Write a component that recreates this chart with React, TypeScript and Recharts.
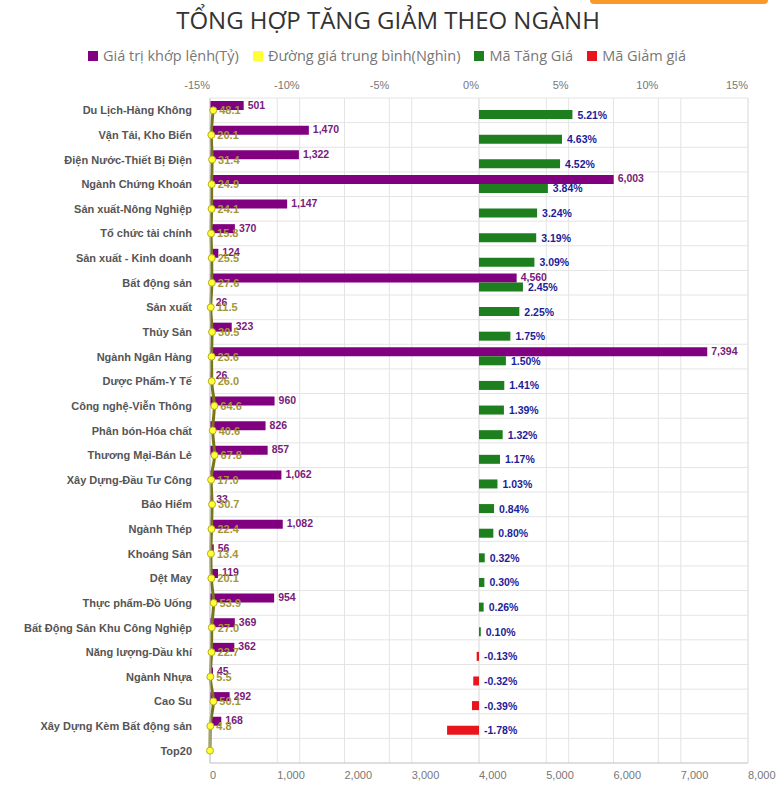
import React from "react";
import {
  ComposedChart,
  Bar,
  Line,
  XAxis,
  YAxis,
  CartesianGrid,
  LabelList,
} from "recharts";

// sectors, top to bottom
const sectors = [
  "Du Lịch-Hàng Không",
  "Vận Tải, Kho Biển",
  "Điện Nước-Thiết Bị Điện",
  "Ngành Chứng Khoán",
  "Sản xuất-Nông Nghiệp",
  "Tổ chức tài chính",
  "Sản xuất - Kinh doanh",
  "Bất động sản",
  "Sản xuất",
  "Thủy Sản",
  "Ngành Ngân Hàng",
  "Dược Phẩm-Y Tế",
  "Công nghệ-Viễn Thông",
  "Phân bón-Hóa chất",
  "Thương Mại-Bán Lẻ",
  "Xây Dựng-Đầu Tư Công",
  "Bảo Hiểm",
  "Ngành Thép",
  "Khoáng Sản",
  "Dệt May",
  "Thực phẩm-Đồ Uống",
  "Bất Động Sản Khu Công Nghiệp",
  "Năng lượng-Dầu khí",
  "Ngành Nhựa",
  "Cao Su",
  "Xây Dựng Kèm Bất động sản",
  "Top20",
];

// Giá trị khớp lệnh (Tỷ)
const matchedValue = [
  501, 1470, 1322, 6003, 1147, 370, 124, 4560, 26, 323, 7394, 26, 960, 826, 857,
  1062, 33, 1082, 56, 119, 954, 369, 362, 45, 292, 168, 0,
];

// Đường giá trung bình (Nghìn)
const avgPrice = [
  48.1, 20.1, 31.4, 24.9, 24.1, 15.8, 25.5, 27.6, 11.5, 30.5, 23.6, 26.0, 64.6,
  40.6, 67.8, 17.0, 30.7, 22.4, 13.4, 20.1, 53.9, 27.0, 22.7, 5.5, 50.1, 4.8, 0,
];

// % change
const pctChange = [
  5.21, 4.63, 4.52, 3.84, 3.24, 3.19, 3.09, 2.45, 2.25, 1.75, 1.5, 1.41, 1.39,
  1.32, 1.17, 1.03, 0.84, 0.8, 0.32, 0.3, 0.26, 0.1, -0.13, -0.32, -0.39, -1.78, 0,
];

const pctTicks = [-15, -10, -5, 0, 5, 10, 15];
const valueTicks = [0, 1000, 2000, 3000, 4000, 5000, 6000, 7000, 8000];

const legendItems = [
  { label: "Giá trị khớp lệnh(Tỷ)", color: "#800080" },
  { label: "Đường giá trung bình(Nghìn)", color: "#ffff33" },
  { label: "Mã Tăng Giá", color: "#1e7f1e" },
  { label: "Mã Giảm giá", color: "#e8161c" },
];

const data = sectors.map((name, i) => ({
  name,
  value: matchedValue[i],
  avg: avgPrice[i],
  pct: pctChange[i],
  up: pctChange[i] > 0 ? pctChange[i] : 0,
  down: pctChange[i] < 0 ? pctChange[i] : 0,
}));

const FONT = "'Liberation Sans', Arial, sans-serif";

const ValueLabel = (props: any) => {
  const { x, y, width, height, value } = props;
  if (!value) return null;
  return (
    <text
      x={x + width + 4}
      y={y + height / 2 - 1}
      dominantBaseline="central"
      fontSize={10.5}
      fontWeight="bold"
      fontFamily={FONT}
      fill="#7a1a7a"
    >
      {Number(value).toLocaleString("en-US")}
    </text>
  );
};

const makePctLabel = (positive: boolean) => (props: any) => {
  const { x, y, width, height, value } = props;
  if (value == null || value === 0) return null;
  if (positive !== value > 0) return null;
  const right = Math.max(x, x + width);
  return (
    <text
      x={right + 5}
      y={y + height / 2}
      dominantBaseline="central"
      fontSize={10.5}
      fontWeight="bold"
      fontFamily={FONT}
      fill="#1c1c99"
    >
      {`${Number(value).toFixed(2)}%`}
    </text>
  );
};

const AvgLabel = (props: any) => {
  const { x, y, value } = props;
  if (!value) return null;
  return (
    <text
      x={x + 6}
      y={y}
      dominantBaseline="central"
      fontSize={11}
      fontWeight="bold"
      fontFamily={FONT}
      fill="#a39634"
    >
      {Number(value).toFixed(1)}
    </text>
  );
};

const SectorTick = (props: any) => {
  const { x, y, payload } = props;
  return (
    <text
      x={x}
      y={y}
      textAnchor="end"
      dominantBaseline="central"
      fontSize={11}
      fontWeight="bold"
      fontFamily={FONT}
      fill="#555"
    >
      {payload.value}
    </text>
  );
};

const bandLines = ({ offset }: any) => {
  const n = sectors.length;
  const step = offset.height / n;
  return Array.from({ length: n + 1 }, (_, i) => offset.top + i * step);
};

export default function App() {
  return (
    <div
      style={{
        position: "absolute",
        left: 0,
        top: 0,
        width: 784,
        height: 796,
        background: "#fff",
        overflow: "hidden",
      }}
    >
      <div
        style={{
          position: "absolute",
          left: 590,
          top: -6,
          width: 178,
          height: 10,
          borderRadius: 4,
          background: "#f79a2a",
        }}
      />
      <div
        style={{
          position: "absolute",
          top: 3,
          left: 0,
          width: 776,
          textAlign: "center",
          fontFamily: "'Open Sans', sans-serif",
          fontSize: 24,
          fontWeight: 500,
          color: "#333",
        }}
      >
        TỔNG HỢP TĂNG GIẢM THEO NGÀNH
      </div>
      <div
        style={{
          position: "absolute",
          top: 46,
          left: 0,
          width: 774,
          display: "flex",
          justifyContent: "center",
          gap: 14,
          fontFamily: "'Open Sans', sans-serif",
          fontSize: 14.5,
          color: "#777",
        }}
      >
        {legendItems.map((item) => (
          <div key={item.label} style={{ display: "flex", alignItems: "center" }}>
            <span
              style={{
                display: "inline-block",
                width: 10,
                height: 10,
                background: item.color,
                marginRight: 5,
              }}
            />
            {item.label}
          </div>
        ))}
      </div>
      <div style={{ position: "absolute", left: 0, top: 0 }}>
        <ComposedChart
          width={784}
          height={796}
          data={data}
          layout="vertical"
          margin={{ top: 78, right: 36, bottom: 3, left: 20 }}
          barSize={9}
          barGap={0}
        >
          <CartesianGrid
            xAxisId="val"
            stroke="#e4e4e4"
            horizontalCoordinatesGenerator={bandLines}
          />
          <CartesianGrid xAxisId="pct" stroke="#e4e4e4" horizontal={false} />
          <XAxis
            xAxisId="pct"
            type="number"
            orientation="top"
            domain={[-15, 15]}
            ticks={pctTicks}
            tickFormatter={(v) => `${v}%`}
            height={20}
            axisLine={false}
            tickLine={false}
            tick={{ fontSize: 11, fill: "#777", fontFamily: FONT, textAnchor: "end" }}
            tickMargin={3}
          />
          <XAxis
            xAxisId="val"
            type="number"
            orientation="bottom"
            domain={[0, 8000]}
            ticks={valueTicks}
            tickFormatter={(v) => v.toLocaleString("en-US")}
            height={30}
            axisLine={{ stroke: "#ccc" }}
            tickLine={false}
            tick={{ fontSize: 11, fill: "#777", fontFamily: FONT, textAnchor: "start" }}
            tickMargin={2}
          />
          <YAxis
            type="category"
            dataKey="name"
            width={190}
            interval={0}
            axisLine={{ stroke: "#ccc" }}
            tickLine={false}
            tickMargin={12}
            tick={<SectorTick />}
          />
          <Bar
            xAxisId="val"
            dataKey="value"
            stackId="val"
            fill="#800080"
            isAnimationActive={false}
          >
            <LabelList dataKey="value" content={ValueLabel} />
          </Bar>
          <Bar
            xAxisId="pct"
            dataKey="up"
            stackId="pct"
            fill="#1e7f1e"
            isAnimationActive={false}
          >
            <LabelList dataKey="pct" content={makePctLabel(true)} />
          </Bar>
          <Bar
            xAxisId="pct"
            dataKey="down"
            stackId="pct"
            fill="#e8161c"
            isAnimationActive={false}
          >
            <LabelList dataKey="pct" content={makePctLabel(false)} />
          </Bar>
          <Line
            xAxisId="val"
            dataKey="avg"
            type="monotone"
            stroke="#77771a"
            strokeWidth={3}
            dot={{ r: 3.5, fill: "#ffff33", stroke: "#b5b020", strokeWidth: 1 }}
            isAnimationActive={false}
          >
            <LabelList dataKey="avg" content={AvgLabel} />
          </Line>
        </ComposedChart>
      </div>
    </div>
  );
}
